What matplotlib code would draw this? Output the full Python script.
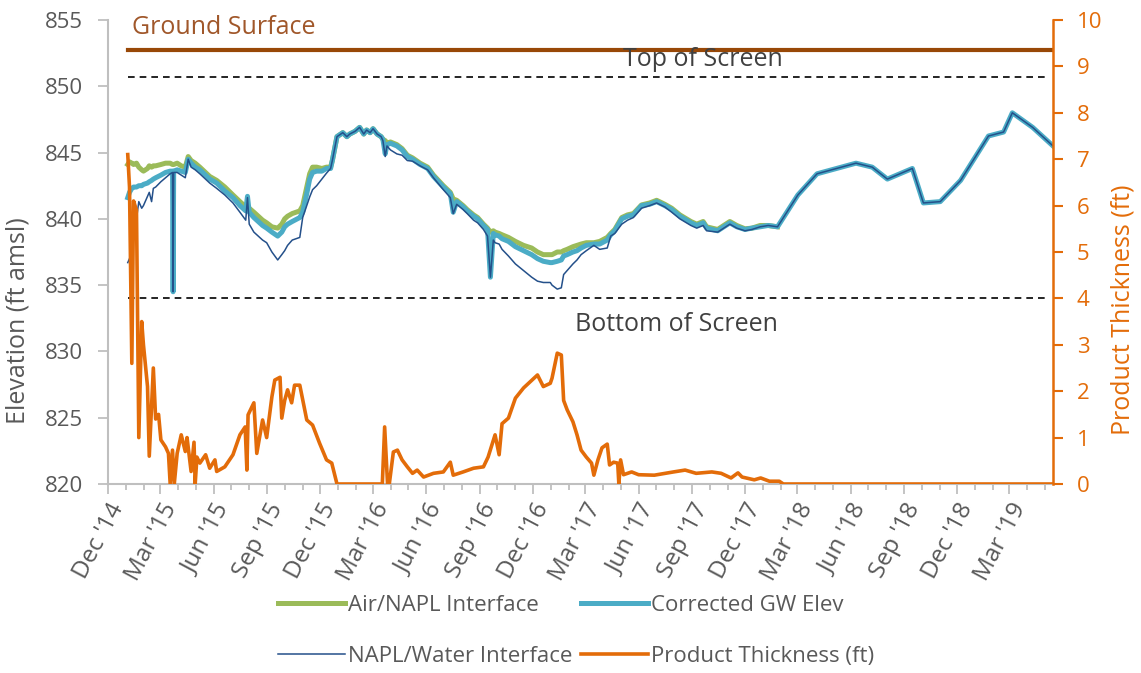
import numpy as np
import pandas as pd
import matplotlib
matplotlib.use('Agg')
import matplotlib.pyplot as plt
import matplotlib.dates as mdates

plt.rcParams['font.family'] = ['Open Sans', 'DejaVu Sans']

# ---- groundwater elevations (ft amsl) ----
gw_dates = [
    '2015-01-04', '2015-01-07', '2015-01-11', '2015-01-14', '2015-01-19', '2015-01-23',
    '2015-01-28', '2015-01-31', '2015-02-07', '2015-02-10', '2015-02-14', '2015-02-17',
    '2015-02-21', '2015-03-02', '2015-03-10', '2015-03-18', '2015-03-22', '2015-03-23',
    '2015-03-24', '2015-03-30', '2015-04-06', '2015-04-13', '2015-04-18', '2015-04-23',
    '2015-04-30', '2015-05-08', '2015-05-25', '2015-06-06', '2015-06-20', '2015-07-04',
    '2015-07-16', '2015-07-26', '2015-07-29', '2015-08-01', '2015-08-09', '2015-08-24',
    '2015-08-31', '2015-09-09', '2015-09-19', '2015-09-26', '2015-10-01', '2015-10-06',
    '2015-10-14', '2015-10-27', '2015-11-01', '2015-11-08', '2015-11-13', '2015-11-18',
    '2015-11-25', '2015-12-04', '2015-12-12', '2015-12-19', '2015-12-22', '2015-12-30',
    '2016-01-09', '2016-01-16', '2016-01-21', '2016-01-30', '2016-02-07', '2016-02-14',
    '2016-02-19', '2016-02-25', '2016-03-01', '2016-03-08', '2016-03-15', '2016-03-18',
    '2016-03-22', '2016-03-25', '2016-03-31', '2016-04-11', '2016-04-20', '2016-04-29',
    '2016-05-08', '2016-05-21', '2016-06-03', '2016-06-13', '2016-06-30', '2016-07-12',
    '2016-07-17', '2016-07-23', '2016-08-03', '2016-08-10', '2016-08-21', '2016-08-28',
    '2016-09-07', '2016-09-14', '2016-09-19', '2016-09-24', '2016-09-27', '2016-10-04',
    '2016-10-09', '2016-10-20', '2016-11-01', '2016-11-15', '2016-11-29', '2016-12-09',
    '2016-12-19', '2016-12-31', '2017-01-03', '2017-01-12', '2017-01-19', '2017-01-23',
    '2017-01-29', '2017-02-08', '2017-02-15', '2017-02-22', '2017-03-03', '2017-03-16',
    '2017-03-26', '2017-04-08', '2017-04-14', '2017-04-21', '2017-05-03', '2017-05-13',
    '2017-05-23', '2017-06-06', '2017-06-20', '2017-07-02', '2017-07-16', '2017-07-28',
    '2017-08-11', '2017-08-30', '2017-09-09', '2017-09-20', '2017-09-26', '2017-10-15',
    '2017-11-05', '2017-11-17', '2017-12-01', '2017-12-13', '2017-12-27', '2018-01-10',
    '2018-01-26',
    # monthly gauging after this
    '2018-03-02', '2018-04-04', '2018-05-16', '2018-06-10', '2018-07-08', '2018-08-03',
    '2018-09-15', '2018-10-04', '2018-11-02', '2018-12-07', '2019-01-24', '2019-02-19',
    '2019-03-06', '2019-04-10', '2019-05-15',
]

air_napl = [
    844.1, 844.3, 844.2, 844.1, 844.2, 843.9, 843.7, 843.6, 843.8, 844.0, 843.9, 844.0,
    844.0, 844.1, 844.2, 844.2, 844.1, 844.1, 844.1, 844.2, 844.0, 843.9, 844.7, 844.4,
    844.2, 843.9, 843.2, 842.9, 842.4, 841.8, 841.3, 840.9, 840.9, 840.8, 840.5, 839.9,
    839.7, 839.4, 839.3, 839.6, 840.0, 840.2, 840.4, 840.6, 841.0, 842.4, 843.4, 843.9,
    843.9, 843.8, 843.9, 843.9, 844.4, 846.2, 846.5, 846.2, 846.4, 846.6, 846.9, 846.4,
    846.7, 846.5, 846.8, 846.4, 846.2, 846.0, 845.9, 845.7, 845.8, 845.6, 845.3, 844.8,
    844.6, 844.2, 843.9, 843.3, 842.5, 842.0, 841.5, 841.4, 841.0, 840.7, 840.3, 840.1,
    839.6, 839.3, 839.0, 839.1, 839.0, 838.9, 838.8, 838.6, 838.3, 838.0, 837.8, 837.5,
    837.3, 837.3, 837.3, 837.5, 837.5, 837.6, 837.7, 837.9, 838.0, 838.1, 838.2, 838.2,
    838.3, 838.6, 838.9, 839.2, 840.1, 840.3, 840.4, 841.05, 841.2, 841.4, 841.1, 840.8,
    840.3, 839.8, 839.6, 839.8, 839.4, 839.2, 839.8, 839.5, 839.25, 839.3, 839.5, 839.5,
    839.4,
]

corrected_gw = [
    841.6, 842.0, 842.3, 842.4, 842.4, 842.5, 842.5, 842.6, 842.7, 842.8, 842.9, 843.0,
    843.1, 843.3, 843.5, 843.6, 843.6, 834.5, 843.6, 843.7, 843.6, 843.5, 844.5, 844.2,
    843.9, 843.7, 843.0, 842.7, 842.1, 841.6, 841.0, 840.6, 841.7, 840.5, 840.1, 839.5,
    839.3, 839.0, 838.7, 839.0, 839.4, 839.6, 839.8, 840.1, 840.5, 841.9, 843.0, 843.5,
    843.6, 843.6, 843.8, 843.8, 844.4, 846.2, 846.5, 846.2, 846.4, 846.6, 846.9, 846.4,
    846.7, 846.5, 846.8, 846.4, 846.2, 846.0, 844.9, 845.6, 845.7, 845.5, 845.2, 844.7,
    844.5, 844.1, 843.8, 843.2, 842.4, 841.9, 840.5, 841.3, 840.9, 840.6, 840.2, 840.0,
    839.5, 839.2, 835.6, 838.9, 838.8, 838.7, 838.5, 838.3, 837.9, 837.6, 837.3, 837.0,
    836.8, 836.7, 836.7, 836.8, 836.9, 837.2, 837.3, 837.5, 837.6, 837.8, 838.0, 838.1,
    838.1, 838.4, 838.8, 839.1, 840.0, 840.2, 840.3, 841.0, 841.1, 841.3, 841.0, 840.7,
    840.2, 839.7, 839.5, 839.7, 839.3, 839.1, 839.7, 839.4, 839.2, 839.3, 839.4, 839.5,
    839.4,
    841.8, 843.4, 843.9, 844.2, 843.9, 843.0, 843.8, 841.2, 841.3, 842.9, 846.25, 846.55,
    848.0, 846.9, 845.5,
]

napl_water = [
    836.7, 837.0, 837.5, 838.5, 840.0, 841.3, 840.8, 841.0, 841.7, 842.0, 841.3, 842.3,
    842.4, 842.8, 843.1, 843.4, 843.5, 834.5, 843.5, 843.5, 843.3, 843.1, 844.5, 843.9,
    843.7, 843.4, 842.7, 842.3, 841.8, 841.2, 840.5, 839.9, 841.6, 839.6, 839.0, 838.4,
    838.2, 837.5, 836.9, 837.3, 837.6, 838.0, 838.4, 838.6, 840.1, 841.0, 841.65, 842.2,
    842.5, 843.0, 843.45, 843.8, 844.4, 846.2, 846.5, 846.2, 846.4, 846.6, 846.9, 846.4,
    846.7, 846.5, 846.8, 846.4, 846.2, 845.9, 844.7, 845.5, 845.2, 844.9, 844.8, 844.4,
    844.35, 844.0, 843.7, 843.1, 842.2, 841.6, 840.4, 841.1, 840.7, 840.4, 839.9, 839.7,
    839.2, 838.7, 835.6, 838.4, 838.2, 838.1, 837.7, 837.2, 836.6, 836.1, 835.6, 835.3,
    835.2, 835.2, 835.0, 834.7, 834.8, 835.8, 836.1, 836.6, 836.9, 837.3, 837.6, 838.0,
    837.7, 837.8, 838.7, 838.9, 839.6, 839.9, 840.1, 840.8, 841.0, 841.2, 840.9, 840.5,
    840.0, 839.5, 839.3, 839.5, 839.1, 839.0, 839.6, 839.3, 839.1, 839.2, 839.4, 839.5,
    839.4,
    841.8, 843.4, 843.9, 844.2, 843.9, 843.0, 843.8, 841.2, 841.3, 842.9, 846.25, 846.55,
    848.0, 846.9, 845.5,
]

# ---- product thickness (ft), right axis ----
pt_dates = [
    '2015-01-04', '2015-01-07', '2015-01-11', '2015-01-14', '2015-01-19', '2015-01-23',
    '2015-01-28', '2015-01-31', '2015-02-07', '2015-02-10', '2015-02-17', '2015-02-21',
    '2015-02-26', '2015-03-02', '2015-03-10', '2015-03-15', '2015-03-18', '2015-03-22',
    '2015-03-25', '2015-03-30', '2015-04-06', '2015-04-13', '2015-04-16', '2015-04-23',
    '2015-04-28', '2015-04-30', '2015-05-03', '2015-05-08', '2015-05-18', '2015-05-25',
    '2015-06-03', '2015-06-06', '2015-06-20', '2015-07-04', '2015-07-16', '2015-07-25',
    '2015-07-28', '2015-07-30', '2015-08-09', '2015-08-14', '2015-08-24', '2015-08-31',
    '2015-09-09', '2015-09-14', '2015-09-23', '2015-09-26', '2015-10-01', '2015-10-06',
    '2015-10-13', '2015-10-18', '2015-10-27', '2015-11-08', '2015-11-18', '2015-11-30',
    '2015-12-12', '2015-12-21', '2015-12-30', '2016-03-17', '2016-03-21', '2016-03-26',
    '2016-03-29', '2016-04-05', '2016-04-12', '2016-04-20', '2016-04-29', '2016-05-08',
    '2016-05-16', '2016-05-27', '2016-06-13', '2016-06-30', '2016-07-12', '2016-07-17',
    '2016-08-03', '2016-08-21', '2016-09-07', '2016-09-15', '2016-09-27', '2016-10-04',
    '2016-10-09', '2016-10-20', '2016-11-01', '2016-11-15', '2016-12-09', '2016-12-19',
    '2016-12-31', '2017-01-03', '2017-01-12', '2017-01-19', '2017-01-23', '2017-01-29',
    '2017-02-08', '2017-02-15', '2017-02-22', '2017-03-03', '2017-03-12', '2017-03-16',
    '2017-03-23', '2017-03-30', '2017-04-08', '2017-04-12', '2017-04-19', '2017-04-26',
    '2017-04-28', '2017-05-01', '2017-05-06', '2017-05-20', '2017-06-01', '2017-06-28',
    '2017-07-31', '2017-08-20', '2017-09-08', '2017-10-05', '2017-10-21', '2017-11-07',
    '2017-11-19', '2017-11-26', '2017-12-17', '2017-12-28', '2018-01-12', '2018-01-29',
    '2018-02-05', '2019-05-15',
]
product_thickness = [
    7.1, 6.4, 2.6, 6.1, 5.9, 1.0, 3.5, 3.0, 2.1, 0.6, 2.5, 1.4,
    1.5, 0.95, 0.8, 0.66, 0.0, 0.73, 0.0, 0.66, 1.06, 0.7, 1.0, 0.27,
    0.9, 0.0, 0.58, 0.45, 0.63, 0.34, 0.52, 0.27, 0.37, 0.63, 1.06, 1.23,
    0.3, 1.49, 1.75, 0.66, 1.38, 1.0, 1.88, 2.24, 2.3, 1.42, 1.8, 2.03,
    1.75, 2.13, 2.13, 1.38, 1.27, 0.88, 0.52, 0.45, 0.0, 0.0, 1.23, 0.0,
    0.0, 0.69, 0.73, 0.52, 0.37, 0.23, 0.3, 0.15, 0.23, 0.26, 0.47, 0.19,
    0.26, 0.34, 0.37, 0.58, 1.06, 0.63, 1.3, 1.42, 1.85, 2.07, 2.35, 2.1,
    2.17, 2.28, 2.82, 2.78, 1.8, 1.6, 1.34, 1.06, 0.73, 0.58, 0.45, 0.19,
    0.52, 0.78, 0.86, 0.41, 0.47, 0.45, 0.0, 0.52, 0.2, 0.26, 0.2, 0.19,
    0.26, 0.3, 0.23, 0.26, 0.23, 0.13, 0.24, 0.15, 0.09, 0.13, 0.06, 0.06,
    0.0, 0.0,
]

# reference elevations
ref_dates = ['2015-01-04', '2019-05-15']
ground_surface = 852.7
top_of_screen = 850.7
bottom_of_screen = 834.0

gray = '#595959'
orange = '#E36C09'

gw_t = pd.to_datetime(gw_dates)
pt_t = pd.to_datetime(pt_dates)
ref_t = pd.to_datetime(ref_dates)

fig = plt.figure(figsize=(11.41, 6.73), dpi=100)
ax = fig.add_axes([108/1141, 1-484/673, 945/1141, 464/673])
ax2 = ax.twinx()

l_air, = ax.plot(gw_t[:len(air_napl)], air_napl, color='#9BBB59', lw=3.6,
                 label='Air/NAPL Interface', zorder=3)
l_gw, = ax.plot(gw_t, corrected_gw, color='#4BACC6', lw=3.6, label='Corrected GW Elev', zorder=4)
l_nw, = ax.plot(gw_t, napl_water, color='#24508A', lw=1.1, label='NAPL/Water Interface', zorder=5)

ax.plot(ref_t, [ground_surface]*2, color='#984807', lw=3, zorder=2)
ax.plot([ref_t[0], pd.Timestamp('2019-05-08')], [top_of_screen]*2, color='black', lw=1.2,
        ls=(0, (4, 3)), zorder=2)
ax.plot([ref_t[0], pd.Timestamp('2019-05-08')], [bottom_of_screen]*2, color='black', lw=1.2,
        ls=(0, (4, 3)), zorder=2)

ax.text(pd.Timestamp('2015-06-19'), 854.4, 'Ground Surface', color='#A0572A', fontsize=18,
        ha='center', va='center')
ax.text(pd.Timestamp('2017-09-20'), 852.0, 'Top of Screen', color='#404040', fontsize=18,
        ha='center', va='center')
ax.text(pd.Timestamp('2017-08-05'), 832.0, 'Bottom of Screen', color='#404040', fontsize=18,
        ha='center', va='center')

l_pt, = ax2.plot(pt_t, product_thickness, color=orange, lw=2.6, label='Product Thickness (ft)')

ax.set_xlim(pd.Timestamp('2014-12-01'), pd.Timestamp('2019-05-15'))
ax.set_ylim(820, 855)
ax2.set_ylim(0, 10)

ax.set_yticks(np.arange(820, 856, 5))
ax2.set_yticks(np.arange(0, 11, 1))

ax.xaxis.set_major_locator(mdates.MonthLocator(bymonth=[3, 6, 9, 12]))
ax.xaxis.set_minor_locator(mdates.MonthLocator())
ax.xaxis.set_major_formatter(mdates.DateFormatter("%b '%y"))
ax.tick_params(axis='x', which='major', length=7, width=1.3, color='#BFBFBF', pad=4,
               labelsize=17.5, labelcolor=gray, labelrotation=62)
ax.tick_params(axis='x', which='minor', length=4, width=1.3, color='#BFBFBF')
for lab in ax.get_xticklabels():
    lab.set_ha('right')
    lab.set_rotation_mode('anchor')

ax.tick_params(axis='y', length=7, width=1.3, color='#BFBFBF', labelsize=16, labelcolor=gray, pad=11)
ax2.tick_params(axis='y', length=7, width=1.5, color=orange, labelsize=16, labelcolor=orange, pad=10)

for a in (ax, ax2):
    a.spines['top'].set_visible(False)
ax.spines['left'].set_color('#BFBFBF')
ax.spines['bottom'].set_color('#BFBFBF')
ax.spines['left'].set_linewidth(1.5)
ax.spines['bottom'].set_linewidth(1.5)
ax.spines['right'].set_visible(False)
ax2.spines['left'].set_visible(False)
ax2.spines['bottom'].set_visible(False)
ax2.spines['right'].set_color(orange)
ax2.spines['right'].set_linewidth(1.8)

ax.set_ylabel('Elevation (ft amsl)', fontsize=18, color=gray, va='center')
ax.yaxis.set_label_coords(-0.0952, 0.353)
ax2.set_ylabel('Product Thickness (ft)', fontsize=18, color=orange, va='center')
ax2.yaxis.set_label_coords(1.074, 0.375)

# column-wise fill: row 1 = Air/NAPL, Corrected GW; row 2 = NAPL/Water, Product
order = [l_air, l_nw, l_gw, l_pt]
fig.legend(order, [h.get_label() for h in order], ncol=2, frameon=False,
           loc='center', bbox_to_anchor=(0.505, 0.063), fontsize=16,
           labelcolor=gray, handlelength=3.0, handletextpad=0.15,
           columnspacing=0.4, labelspacing=1.35)

fig.savefig('out.png', dpi=100)
